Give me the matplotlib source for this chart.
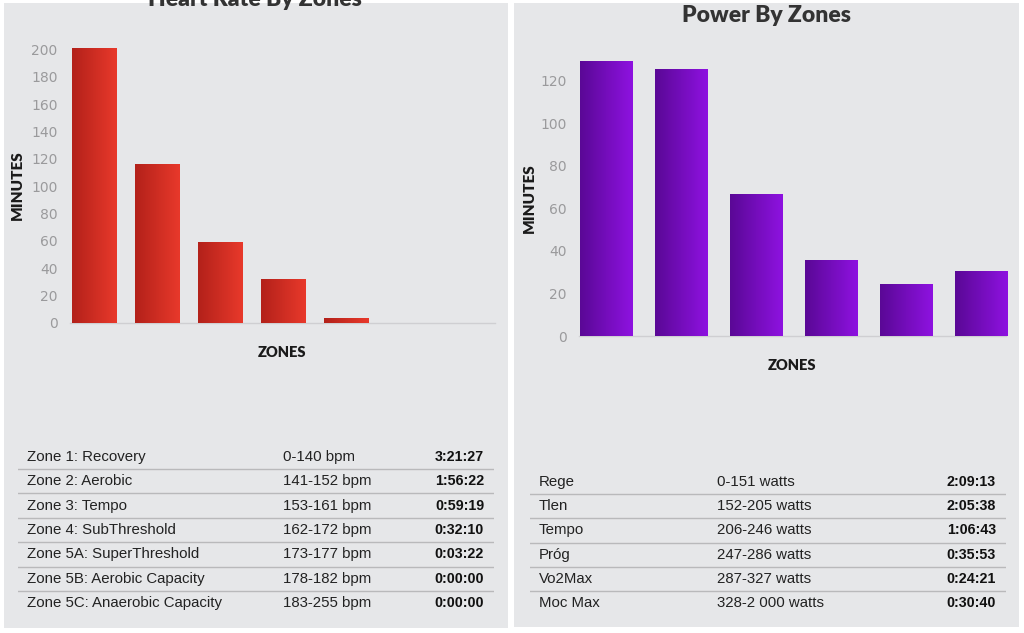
#imports
import numpy as np
import matplotlib
matplotlib.use("Agg")
import matplotlib.pyplot as plt
from matplotlib.patches import Rectangle
from matplotlib.colors import LinearSegmentedColormap

#data - heart rate
hr_zones = ["Zone 1: Recovery", "Zone 2: Aerobic", "Zone 3: Tempo", "Zone 4: SubThreshold",
            "Zone 5A: SuperThreshold", "Zone 5B: Aerobic Capacity", "Zone 5C: Anaerobic Capacity"]
hr_ranges = ["0-140 bpm", "141-152 bpm", "153-161 bpm", "162-172 bpm",
             "173-177 bpm", "178-182 bpm", "183-255 bpm"]
hr_times = ["3:21:27", "1:56:22", "0:59:19", "0:32:10", "0:03:22", "0:00:00", "0:00:00"]
hr_ticks = [0, 20, 40, 60, 80, 100, 120, 140, 160, 180, 200]

#data - power
pw_zones = ["Rege", "Tlen", "Tempo", "Próg", "Vo2Max", "Moc Max"]
pw_ranges = ["0-151 watts", "152-205 watts", "206-246 watts", "247-286 watts",
             "287-327 watts", "328-2 000 watts"]
pw_times = ["2:09:13", "2:05:38", "1:06:43", "0:35:53", "0:24:21", "0:30:40"]
pw_ticks = [0, 20, 40, 60, 80, 100, 120]

#convert h:mm:ss to minutes
def to_minutes(t):
    h, m, s = [int(v) for v in t.split(":")]
    return h * 60 + m + s / 60

hr_minutes = [to_minutes(t) for t in hr_times]
pw_minutes = [to_minutes(t) for t in pw_times]

W, H = 1024, 633
panel_color = "#e6e7e9"

def fx(x):
    return x / W

def fy(y):
    return 1 - y / H

def px_axes(fig, left, top, right, bottom):
    return fig.add_axes([fx(left), fy(bottom), fx(right - left), (bottom - top) / H])

fig = plt.figure(figsize=(W / 100, H / 100), dpi=100, facecolor="white")

#grey phone panels (behind the axes)
for (l, t, r, b) in [(4, 3, 508, 628), (514, 3, 1019, 627)]:
    fig.patches.append(Rectangle((fx(l), fy(b)), fx(r - l), (b - t) / H,
                                 transform=fig.transFigure, facecolor=panel_color,
                                 edgecolor="none", zorder=-5))

#bar chart with horizontal gradient in each bar
def bar_chart(ax, values, ticks, ymax, xlim, c0, c1, xlab_y, ylab_x, ylab_y):
    ax.set_facecolor("none")
    cmap = LinearSegmentedColormap.from_list("g", [c0, c1])
    grad = np.linspace(0, 1, 64).reshape(1, -1)
    bars = ax.bar(range(len(values)), values, width=0.7, color=c1, zorder=2)
    for b in bars:
        if b.get_height() <= 0:
            continue
        x0 = b.get_x()
        im = ax.imshow(grad, cmap=cmap, aspect="auto", zorder=3,
                       extent=(x0, x0 + b.get_width(), 0, b.get_height()))
        im.set_clip_path(b)
    ax.set_xlim(*xlim)
    ax.set_ylim(0, ymax)
    for s in ["top", "right", "left"]:
        ax.spines[s].set_visible(False)
    ax.spines["bottom"].set_color("#cfcfd2")
    ax.spines["bottom"].set_linewidth(1)
    ax.set_xticks([])
    ax.set_yticks(ticks)
    ax.tick_params(axis="y", length=0, pad=9, labelsize=10, labelcolor="#9a9a9c")
    ax.set_xlabel("ZONES", family="Lato", fontweight="heavy", fontsize=10.5, color="#1a1a1a")
    ax.xaxis.set_label_coords(0.499, xlab_y)
    ax.set_ylabel("MINUTES", family="Lato", fontweight="heavy", fontsize=11, color="#1a1a1a")
    ax.yaxis.set_label_coords(ylab_x, ylab_y)

ax1 = px_axes(fig, 70, 36, 495, 323)
bar_chart(ax1, hr_minutes, hr_ticks, 210, (-0.381, 6.365), "#b3211a", "#e8392b",
          -0.080, -0.108, 0.481)
ax2 = px_axes(fig, 579, 49, 1006, 336)
bar_chart(ax2, pw_minutes, pw_ticks, 135, (-0.36, 5.333), "#5a0896", "#8e12e0",
          -0.080, -0.1007, 0.48)

#titles (the left one is cut by the top edge, as in the screenshot)
fig.text(fx(255), fy(0), "Heart Rate By Zones", ha="center", va="center",
         family="Lato", fontweight="heavy", fontsize=16.5, color="#333333")
fig.text(fx(767), fy(15), "Power By Zones", ha="center", va="center",
         family="Lato", fontweight="heavy", fontsize=16.5, color="#333333")

#tables under the charts
def zone_table(ax, names, ranges, times, x_range, x_time):
    n = len(names)
    ax.set_xlim(0, 1)
    ax.set_ylim(n - 0.5, -0.5)
    ax.axis("off")
    for i in range(n - 1):
        ax.axhline(i + 0.5, color="#b9b9bb", lw=1)
    for i in range(n):
        ax.text(0.019, i, names[i], va="center", ha="left", fontsize=10.8,
                family="Liberation Sans", color="#222222")
        ax.text(x_range, i, ranges[i], va="center", ha="left", fontsize=10.8,
                family="Liberation Sans", color="#222222")
        ax.text(x_time, i, times[i], va="center", ha="right", fontsize=10.3,
                family="Liberation Sans", fontweight="bold", color="#111111")

t1 = px_axes(fig, 18, 444.8, 494, 615.2)
zone_table(t1, hr_zones, hr_ranges, hr_times, (283 - 18) / 476, (484 - 18) / 476)
t2 = px_axes(fig, 530, 469.9, 1006, 615.1)
zone_table(t2, pw_zones, pw_ranges, pw_times, (717 - 530) / 476, (996 - 530) / 476)

fig.savefig("out.png", dpi=100, facecolor="white")
